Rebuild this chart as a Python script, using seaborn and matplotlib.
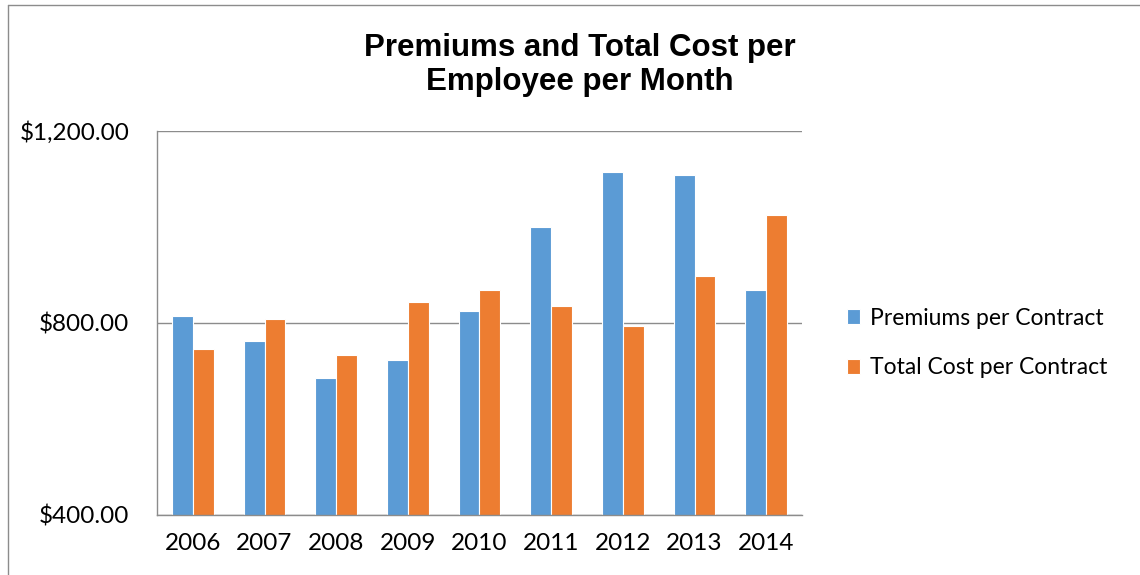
import matplotlib
matplotlib.use("Agg")
import matplotlib.pyplot as plt
from matplotlib.lines import Line2D
import pandas as pd
import seaborn as sns

years = ["2006", "2007", "2008", "2009", "2010", "2011", "2012", "2013", "2014"]
premiums = [814, 763, 685, 723, 826, 1000, 1115, 1108, 869]
total_cost = [745, 808, 734, 844, 869, 835, 794, 898, 1026]
series_names = ["Premiums per Contract", "Total Cost per Contract"]
yticks = [400, 800, 1200]

df = pd.DataFrame({
    "year": years * 2,
    "series": [series_names[0]] * len(years) + [series_names[1]] * len(years),
    "value": premiums + total_cost,
})

sns.set_style("white")
plt.rcParams["font.family"] = ["Lato", "DejaVu Sans"]
plt.rcParams["text.color"] = "black"

fig = plt.figure(figsize=(11.4, 5.75), dpi=100)
ax = fig.add_axes([157 / 1140, 60 / 575, 645 / 1140, 384 / 575])

sns.barplot(data=df, x="year", y="value", hue="series",
            palette=["#5B9BD5", "#ED7D31"], saturation=1, width=0.58, gap=0,
            edgecolor="white", linewidth=0.8, ax=ax)

ax.set_xlim(-0.5, len(years) - 0.5)
ax.set_ylim(400, 1200)
ax.set_yticks(yticks)
ax.set_yticklabels(["${:,.2f}".format(v) for v in yticks])
ax.yaxis.grid(True, color="#8c8c8c", linewidth=1)
ax.set_axisbelow(True)
ax.set_xlabel("")
ax.set_ylabel("")
ax.tick_params(axis="both", length=0, labelsize=17.5, colors="black")
ax.tick_params(axis="y", pad=20)
ax.tick_params(axis="x", pad=13)
for side in ["top", "right"]:
    ax.spines[side].set_visible(False)
for side in ["left", "bottom"]:
    ax.spines[side].set_color("#8c8c8c")
    ax.spines[side].set_linewidth(1)

ax.legend(loc="center left", bbox_to_anchor=(826 / 1140, 1 - 343 / 575),
          bbox_transform=fig.transFigure, frameon=False, fontsize=16.5,
          handlelength=0.6, handleheight=0.6, handletextpad=0.4,
          labelspacing=1.25)

fig.text(580 / 1140, 1 - 65 / 575, "Premiums and Total Cost per\nEmployee per Month",
         ha="center", va="center", fontsize=22.5, fontweight="bold", color="black",
         family=["Liberation Sans", "DejaVu Sans"], linespacing=1.15)

# outer chart frame
fig.add_artist(Line2D([8 / 1140, 8 / 1140], [0, 1 - 5 / 575], transform=fig.transFigure,
                      color="#8c8c8c", linewidth=1))
fig.add_artist(Line2D([8 / 1140, 1], [1 - 5 / 575, 1 - 5 / 575], transform=fig.transFigure,
                      color="#8c8c8c", linewidth=1))

fig.savefig("out.png", dpi=100)
